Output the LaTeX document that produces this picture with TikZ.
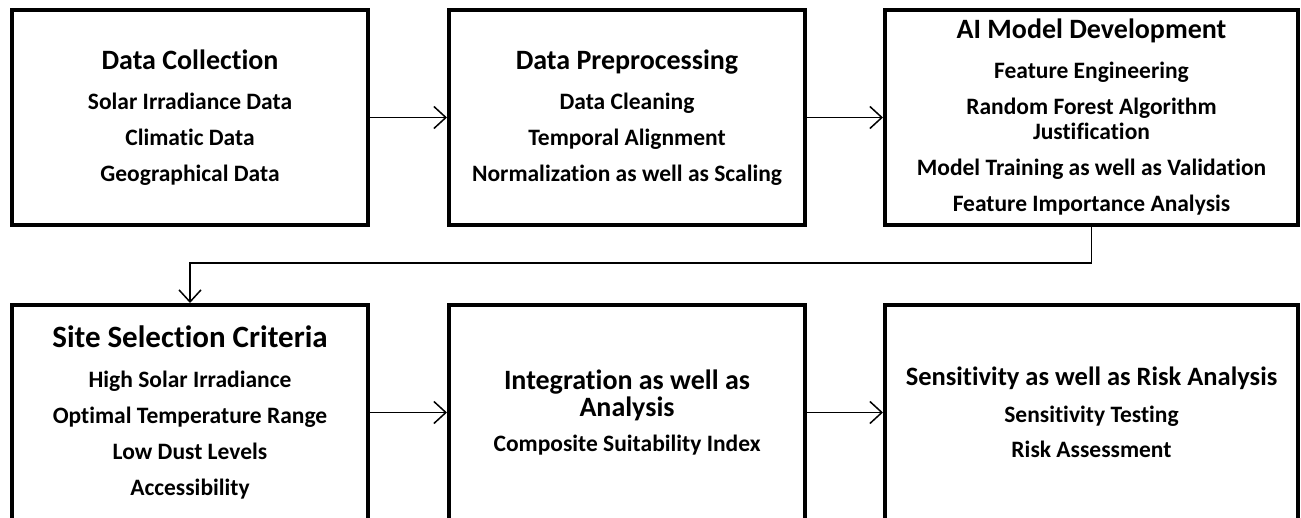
\documentclass[tikz,border=0pt]{standalone}
\usepackage{fontspec}
\setmainfont{Carlito}[Ligatures=NoCommon]
\usetikzlibrary{positioning, arrows.meta}

% heading line of a box, size can be changed per box
\newcommand{\stagetitle}[2][28]{{\fontsize{#1}{30}\selectfont #2}}

\tikzstyle{stage} = [rectangle, draw=black, line width=4pt, minimum width=356pt, minimum height=215pt, align=center, inner sep=0pt, font=\bfseries\fontsize{23.5}{25}\selectfont]
\tikzstyle{widestage} = [stage, minimum width=413pt]
\tikzstyle{arrow} = [line width=1.5pt, -{Straight Barb[length=12pt, width=22pt]}]

\begin{document}
\begin{tikzpicture}[x=1pt, y=1pt]

\useasboundingbox (0,0) rectangle (1301,-517);

\node (collect) [stage] at (190,-117.5) {\stagetitle{Data Collection}\\[15pt] Solar Irradiance Data\\[11pt] Climatic Data\\[11pt] Geographical Data};
\node (prep) [stage, right=77pt of collect] {\stagetitle{Data Preprocessing}\\[15pt] Data Cleaning\\[11pt] Temporal Alignment\\[11pt] Normalization as well as Scaling};
\node (model) [widestage, right=76pt of prep] {\stagetitle{AI Model Development}\\[15pt] Feature Engineering\\[11pt] Random Forest Algorithm\\ Justification\\[11pt] Model Training as well as Validation\\[11pt] Feature Importance Analysis};
\node (site) [stage, below=76pt of collect] {\stagetitle[31]{Site Selection Criteria}\\[15pt] High Solar Irradiance\\[11pt] Optimal Temperature Range\\[11pt] Low Dust Levels\\[11pt] Accessibility};
\node (integ) [stage, below=76pt of prep] {\stagetitle{Integration as well as}\\[2pt] \stagetitle{Analysis}\\[10pt] Composite Suitability Index};
\node (risk) [widestage, below=76pt of model] {\stagetitle[26.5]{Sensitivity as well as Risk Analysis}\\[12pt] Sensitivity Testing\\[10pt] Risk Assessment};

\draw [arrow] (collect.east) -- (prep.west);
\draw [arrow] (prep.east) -- (model.west);
\draw [arrow] (model.south) -- ++(0,-36) -| (site.north);
\draw [arrow] (site.east) -- (integ.west);
\draw [arrow] (integ.east) -- (risk.west);

\end{tikzpicture}
\end{document}
